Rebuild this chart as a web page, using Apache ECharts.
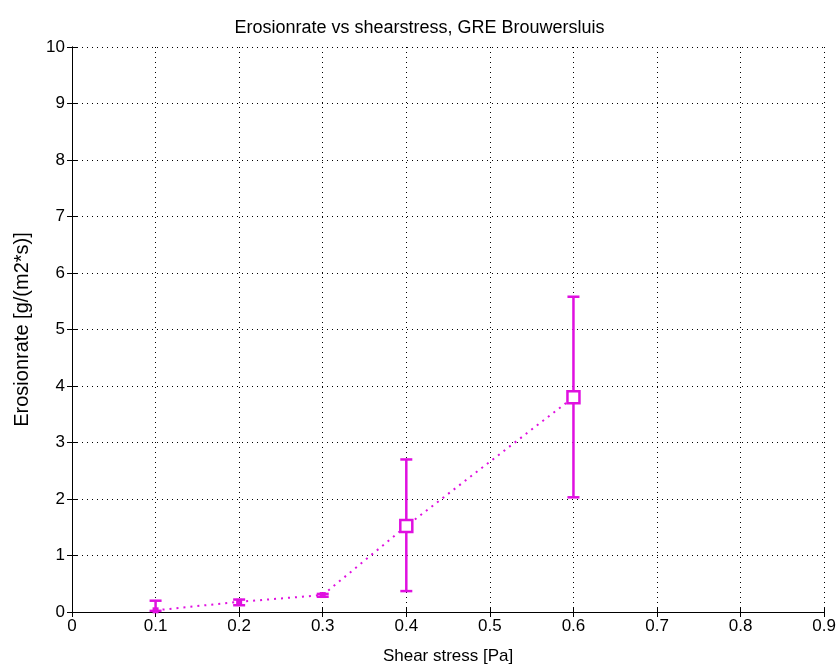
<!DOCTYPE html>
<html><head><meta charset="utf-8">
<script src="https://cdn.jsdelivr.net/npm/echarts@6/dist/echarts.min.js"></script>
<style>html,body{margin:0;padding:0;background:#fff}#c{width:839px;height:670px}</style>
</head><body><div id="c"></div>
<script>
const titleText = 'Erosionrate vs shearstress, GRE Brouwersluis';
const xName = 'Shear stress [Pa]';
const yName = 'Erosionrate [g/(m2*s)]';
const xValues = [0.1, 0.2, 0.3, 0.4, 0.6];
const yValues = [0.03, 0.18, 0.30, 1.52, 3.80];
const errLow  = [0.02, 0.12, 0.27, 0.37, 2.03];
const errHigh = [0.20, 0.22, 0.32, 2.70, 5.58];
const squareMarked = [false, false, false, true, true];
const xTicks = [0, 0.1, 0.2, 0.3, 0.4, 0.5, 0.6, 0.7, 0.8, 0.9];
const yTicks = [0, 1, 2, 3, 4, 5, 6, 7, 8, 9, 10];

const FONT = '"Liberation Sans", Arial, sans-serif';
const MAG = '#e010e0';
const chart = echarts.init(document.getElementById('c'));

const lineData = xValues.map((x, i) => [x, yValues[i]]);
const errData = xValues.map((x, i) => [x, errLow[i], errHigh[i], yValues[i], squareMarked[i] ? 1 : 0]);

function axisCommon(show) {
  return {
    axisLine: {show: true, lineStyle: {color: '#000', width: 1}},
    axisTick: {show: true, inside: true, length: 5, lineStyle: {color: '#000'}},
    splitLine: {show: show, lineStyle: {color: '#000', type: [1, 4], width: 1}},
  };
}

chart.setOption({
  animation: false,
  backgroundColor: '#fff',
  title: {text: titleText, left: 'center', top: 14,
    textStyle: {fontFamily: FONT, fontSize: 18, fontWeight: 'normal', color: '#000'}},
  grid: {left: 72, right: 12, top: 47, bottom: 57},
  xAxis: [
    Object.assign({type: 'value', min: 0, max: 0.9, interval: 0.1, position: 'bottom',
      name: xName, nameLocation: 'middle', nameGap: 36,
      nameTextStyle: {fontFamily: FONT, fontSize: 17, color: '#000'},
      axisLabel: {fontFamily: FONT, fontSize: 17, color: '#000', margin: 6,
        formatter: v => xTicks.some(t => Math.abs(t - v) < 1e-9) ? String(Math.round(v * 10) / 10) : ''}},
      axisCommon(true)),
    Object.assign({type: 'value', min: 0, max: 0.9, interval: 0.1, position: 'top',
      axisLabel: {show: false}}, axisCommon(false))
  ],
  yAxis: [
    Object.assign({type: 'value', min: 0, max: 10, interval: 1, position: 'left',
      name: yName, nameLocation: 'middle', nameGap: 40,
      nameTextStyle: {fontFamily: FONT, fontSize: 20, color: '#000'},
      axisLabel: {fontFamily: FONT, fontSize: 17, color: '#000', margin: 7,
        formatter: v => yTicks.includes(v) ? String(v) : ''}},
      axisCommon(true)),
    Object.assign({type: 'value', min: 0, max: 10, interval: 1, position: 'right',
      axisLabel: {show: false}}, axisCommon(false))
  ],
  series: [
    {type: 'line', data: lineData, xAxisIndex: 0, yAxisIndex: 0,
      lineStyle: {color: MAG, width: 2, type: [2, 5]}, symbol: 'none', z: 3},
    {type: 'custom', xAxisIndex: 0, yAxisIndex: 0, data: errData, z: 4,
      renderItem: function (params, api) {
        const x = api.value(0);
        const lo = api.coord([x, api.value(1)]);
        const hi = api.coord([x, api.value(2)]);
        const c = api.coord([x, api.value(3)]);
        const sq = api.value(4) === 1;
        const cap = 6;
        const st = {stroke: MAG, lineWidth: 2.5, fill: null};
        const children = [
          {type: 'line', shape: {x1: lo[0], y1: lo[1], x2: hi[0], y2: hi[1]}, style: st},
          {type: 'line', shape: {x1: lo[0] - cap, y1: lo[1], x2: lo[0] + cap, y2: lo[1]}, style: st},
          {type: 'line', shape: {x1: hi[0] - cap, y1: hi[1], x2: hi[0] + cap, y2: hi[1]}, style: st}
        ];
        if (sq) {
          children.push({type: 'rect', shape: {x: c[0] - 6, y: c[1] - 6, width: 12, height: 12},
            style: {stroke: MAG, lineWidth: 2.5, fill: '#fff'}});
        } else {
          children.push({type: 'rect', shape: {x: c[0] - 3, y: c[1] - 3, width: 6, height: 6},
            style: {fill: MAG, stroke: null}});
        }
        return {type: 'group', children: children};
      }}
  ]
});
</script></body></html>
